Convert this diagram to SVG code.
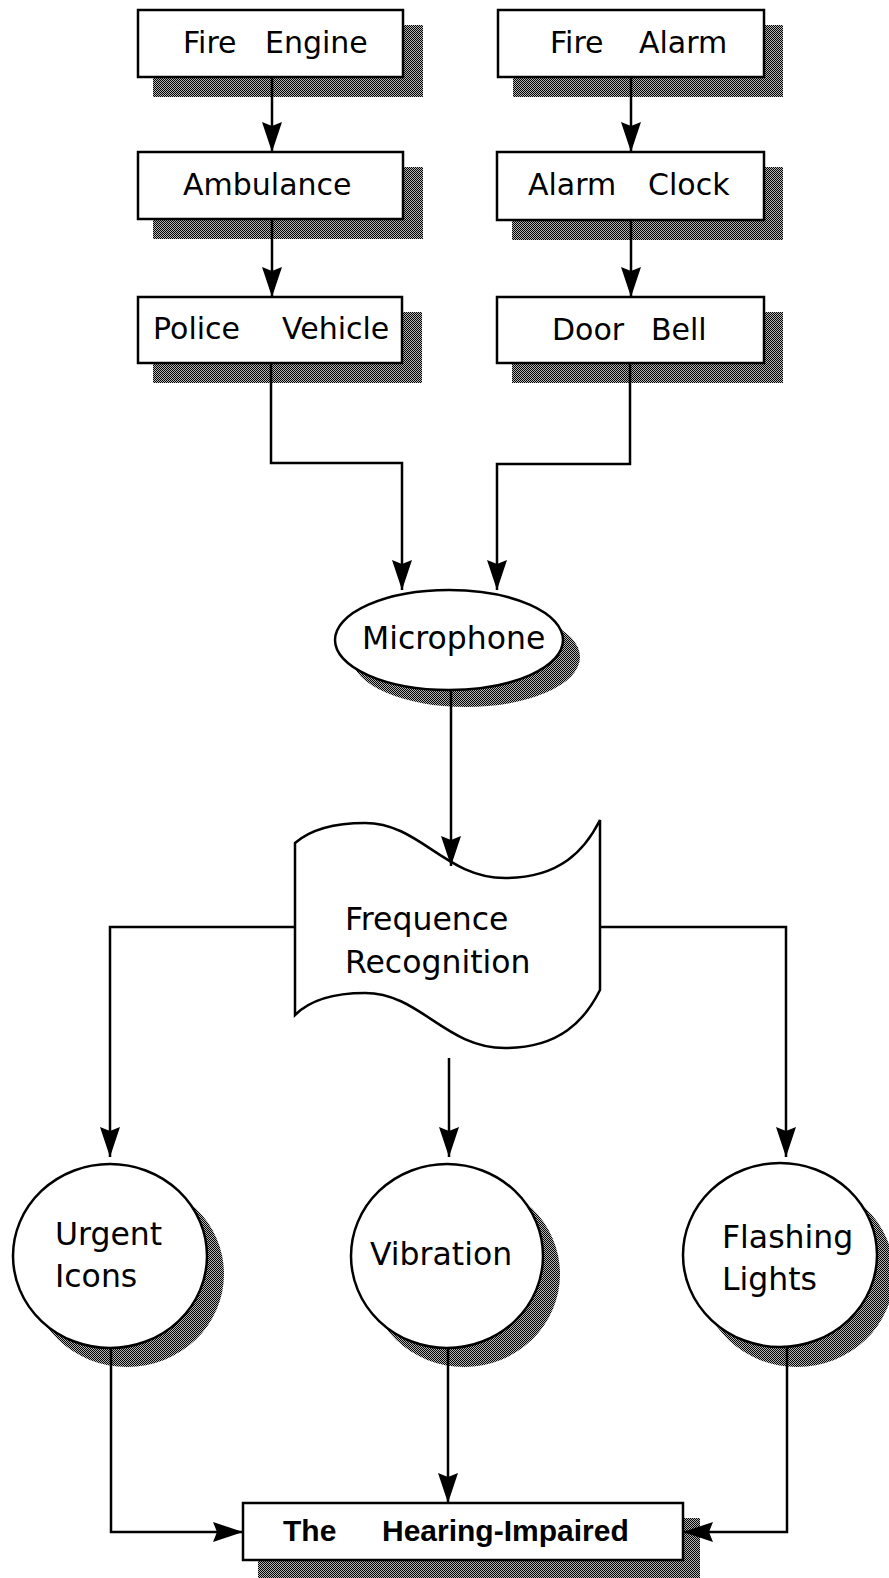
<svg xmlns="http://www.w3.org/2000/svg" width="889" height="1578" viewBox="0 0 889 1578">
<style>
.box{fill:#fff;stroke:#000;stroke-width:2.5}
.sh{fill:url(#dither);stroke:none}
.t{font-family:"DejaVu Sans",sans-serif;font-size:30px;fill:#000}
.tc{font-family:"DejaVu Sans",sans-serif;font-size:31.5px;fill:#000}
.tb{font-family:"Liberation Sans",Arial,sans-serif;font-size:30px;font-weight:bold;fill:#000}
.c{fill:none;stroke:#000;stroke-width:2.5}
</style>
<defs>
<pattern id="dither" width="2" height="2" patternUnits="userSpaceOnUse">
<rect width="2" height="2" fill="#b4b4b4"/>
<rect width="1" height="1" fill="#000"/>
<rect x="1" y="1" width="1" height="1" fill="#000"/>
</pattern>
<marker id="arr" viewBox="0 0 30 20" refX="30" refY="10" markerWidth="30" markerHeight="20" markerUnits="userSpaceOnUse" orient="auto">
<path d="M0,0 L30,10 L0,20 L4,10 Z" fill="#000"/>
</marker>
</defs>
<rect width="889" height="1578" fill="#fff"/>

<g id="fire-engine">
<rect class="sh" x="153" y="25" width="270" height="72"/>
<rect class="box" x="138" y="10" width="265" height="67"/>
<text class="t" x="183" y="53">Fire<tspan x="265">Engine</tspan></text>
</g>
<g id="ambulance">
<rect class="sh" x="153" y="167" width="270" height="72"/>
<rect class="box" x="138" y="152" width="265" height="67"/>
<text class="t" x="183" y="195">Ambulance</text>
</g>
<g id="police-vehicle">
<rect class="sh" x="153" y="312" width="269" height="71"/>
<rect class="box" x="138" y="297" width="264" height="66"/>
<text class="t" x="153" y="339">Police<tspan x="282">Vehicle</tspan></text>
</g>
<g id="fire-alarm">
<rect class="sh" x="513" y="25" width="270" height="72"/>
<rect class="box" x="498" y="10" width="266" height="67"/>
<text class="t" x="550" y="53">Fire<tspan x="639">Alarm</tspan></text>
</g>
<g id="alarm-clock">
<rect class="sh" x="512" y="167" width="271" height="73"/>
<rect class="box" x="497" y="152" width="267" height="68"/>
<text class="t" x="528" y="195">Alarm<tspan x="648">Clock</tspan></text>
</g>
<g id="door-bell">
<rect class="sh" x="512" y="312" width="271" height="71"/>
<rect class="box" x="497" y="297" width="267" height="66"/>
<text class="t" x="552" y="340">Door<tspan x="651">Bell</tspan></text>
</g>
<g id="microphone">
<ellipse class="sh" cx="466" cy="657" rx="114" ry="50"/>
<ellipse class="box" cx="449" cy="640" rx="114" ry="50"/>
<text class="tc" x="362" y="649">Microphone</text>
</g>
<g id="frequence-recognition">
<path class="box" d="M295,843 C310,830 335,823 365,823 C420,823 445,878 505,878 C560,878 585,850 600,820 L600,990 C585,1020 560,1048 505,1048 C445,1048 420,993 365,993 C335,993 310,1000 295,1015 Z"/>
<text class="tc" x="345" y="930">Frequence</text>
<text class="tc" x="345" y="973">Recognition</text>
</g>
<g id="urgent-icons">
<ellipse class="sh" cx="127" cy="1274" rx="97" ry="93"/>
<ellipse class="box" cx="110" cy="1256" rx="97" ry="92"/>
<text class="tc" x="55" y="1245">Urgent</text>
<text class="tc" x="55" y="1287">Icons</text>
</g>
<g id="vibration">
<ellipse class="sh" cx="464" cy="1274" rx="96" ry="93"/>
<ellipse class="box" cx="447" cy="1256" rx="96" ry="92"/>
<text class="tc" x="370" y="1265">Vibration</text>
</g>
<g id="flashing-lights">
<ellipse class="sh" cx="797" cy="1274" rx="97" ry="93"/>
<ellipse class="box" cx="780" cy="1255" rx="97" ry="92"/>
<text class="tc" x="722" y="1248">Flashing</text>
<text class="tc" x="722" y="1290">Lights</text>
</g>
<g id="hearing-impaired">
<rect class="sh" x="258" y="1518" width="442" height="62"/>
<rect class="box" x="243" y="1503" width="440" height="57"/>
<text class="tb" x="283" y="1541">The<tspan x="382">Hearing-Impaired</tspan></text>
</g>

<g id="connectors">
<path class="c" d="M272,77 V152" marker-end="url(#arr)"/>
<path class="c" d="M272,219 V297" marker-end="url(#arr)"/>
<path class="c" d="M631,77 V152" marker-end="url(#arr)"/>
<path class="c" d="M631,220 V297" marker-end="url(#arr)"/>
<path class="c" d="M271,363 V463 H402 V590" marker-end="url(#arr)"/>
<path class="c" d="M630,363 V464 H497 V590" marker-end="url(#arr)"/>
<path class="c" d="M451,690 V866" marker-end="url(#arr)"/>
<path class="c" d="M295,927 H110 V1157" marker-end="url(#arr)"/>
<path class="c" d="M449,1058 V1157" marker-end="url(#arr)"/>
<path class="c" d="M600,927 H786 V1157" marker-end="url(#arr)"/>
<path class="c" d="M111,1348 V1532 H243" marker-end="url(#arr)"/>
<path class="c" d="M448,1348 V1503" marker-end="url(#arr)"/>
<path class="c" d="M787,1347 V1532 H683" marker-end="url(#arr)"/>
</g>
</svg>
